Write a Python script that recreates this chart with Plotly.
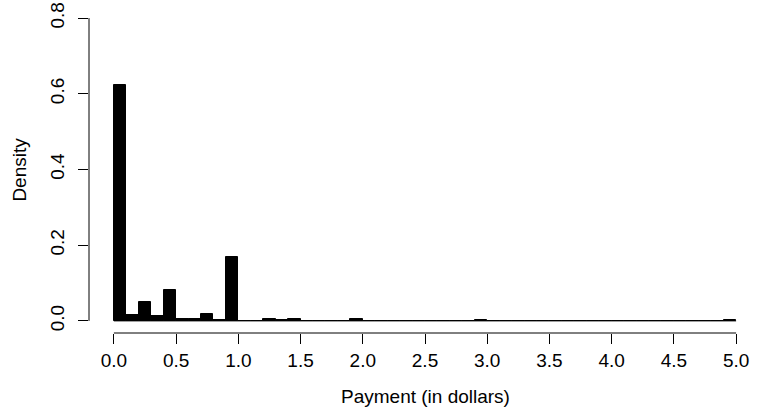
import plotly.graph_objects as go

# histogram bins: left edges 0.0 .. 4.9, width 0.1
bin_width = 0.1
bin_left = [round(i * bin_width, 1) for i in range(50)]
density = [
    0.6225, 0.0167, 0.051, 0.014, 0.082, 0.005, 0.005, 0.018, 0.0035, 0.169,
    0.0, 0.0, 0.005, 0.002, 0.005, 0.0, 0.0, 0.0, 0.0, 0.004,
    0.0, 0.0, 0.0, 0.0, 0.0, 0.0, 0.0, 0.0, 0.0, 0.003,
    0.0, 0.0, 0.0, 0.0, 0.0, 0.0, 0.0, 0.0, 0.0, 0.0,
    0.0, 0.0, 0.0, 0.0, 0.0, 0.0, 0.0, 0.0, 0.0, 0.003,
]
x_ticks = [0.0, 0.5, 1.0, 1.5, 2.0, 2.5, 3.0, 3.5, 4.0, 4.5, 5.0]
x_ticklabels = ["0.0", "0.5", "1.0", "1.5", "2.0", "2.5", "3.0", "3.5", "4.0", "4.5", "5.0"]
y_ticks = [0.0, 0.2, 0.4, 0.6, 0.8]
y_ticklabels = ["0.0", "0.2", "0.4", "0.6", "0.8"]
x_title = "Payment (in dollars)"
y_title = "Density"

centers = [b + bin_width / 2 for b in bin_left]

FONT = "Liberation Sans, Arial, Helvetica, sans-serif"
FS = 19

fig = go.Figure()
fig.add_trace(go.Bar(
    x=centers, y=density, width=bin_width,
    marker=dict(color="black", line=dict(color="black", width=1)),
    hoverinfo="skip",
))

# R extends the axis limits by 4% on each side
xr = [x_ticks[0] - 0.04 * (x_ticks[-1] - x_ticks[0]), x_ticks[-1] + 0.04 * (x_ticks[-1] - x_ticks[0])]
yr = [y_ticks[0] - 0.04 * (y_ticks[-1] - y_ticks[0]), y_ticks[-1] + 0.04 * (y_ticks[-1] - y_ticks[0])]

fig.update_layout(
    width=766, height=415,
    margin=dict(l=89, r=5, t=6, b=82, autoexpand=False),
    paper_bgcolor="white", plot_bgcolor="white",
    showlegend=False,
    bargap=0,
    hovermode=False,
    font=dict(family=FONT, size=FS, color="black"),
    xaxis=dict(
        range=xr, tickmode="array", tickvals=x_ticks, ticktext=x_ticklabels,
        ticks="outside", ticklen=10, tickwidth=1, tickcolor="black",
        showline=False, showgrid=False, zeroline=False, automargin=False,
        ticklabelstandoff=0, ticklabeloverflow="allow", tickfont=dict(size=FS),
    ),
    yaxis=dict(
        range=yr, tickmode="array", tickvals=y_ticks, ticktext=y_ticklabels,
        ticks="outside", ticklen=10, tickwidth=1, tickcolor="black",
        tickangle=-90,
        showline=False, showgrid=False, zeroline=False, automargin=False,
        ticklabelstandoff=6, ticklabeloverflow="allow", tickfont=dict(size=FS),
    ),
    annotations=[
        dict(text=x_title, xref="paper", yref="paper", x=0.5, y=-0.194,
             xanchor="center", yanchor="middle", showarrow=False, font=dict(size=FS)),
        dict(text=y_title, xref="paper", yref="y", x=-0.104, y=(y_ticks[0] + y_ticks[-1]) / 2,
             xanchor="center", yanchor="middle", textangle=-90, showarrow=False, font=dict(size=FS)),
    ],
)

# R-style axis lines spanning first to last tick
fig.add_shape(type="line", xref="x", yref="paper", x0=x_ticks[0], x1=x_ticks[-1], y0=0, y1=0,
              line=dict(color="black", width=1))
fig.add_shape(type="line", xref="paper", yref="y", x0=0, x1=0, y0=y_ticks[0], y1=y_ticks[-1],
              line=dict(color="black", width=1))
# baseline where zero-height bins sit
fig.add_shape(type="line", xref="x", yref="y", x0=bin_left[0], x1=bin_left[-1] + bin_width, y0=0, y1=0,
              line=dict(color="black", width=1))

# remove the browser's default 8px body margin so the figure fills the window
fig.write_html("out.html", config={"displayModeBar": False},
               post_script="document.body.style.margin='0';")
